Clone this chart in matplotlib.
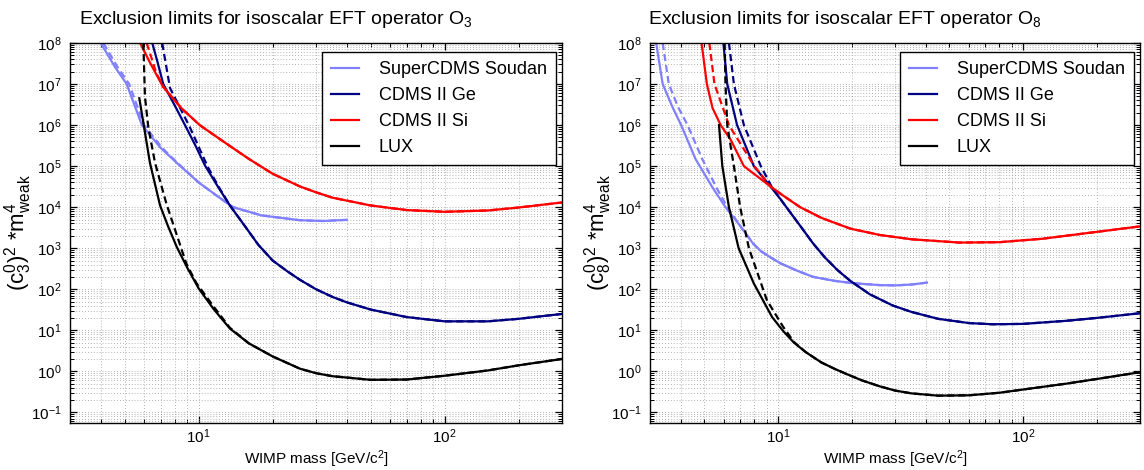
import matplotlib
matplotlib.use("Agg")
from matplotlib import pyplot as plt
from matplotlib.ticker import LogLocator, NullFormatter

plt.rcParams['font.family'] = ['Liberation Sans', 'DejaVu Sans']
plt.rcParams['mathtext.fontset'] = 'custom'
plt.rcParams['mathtext.rm'] = 'Liberation Sans'
plt.rcParams['mathtext.it'] = 'Liberation Sans:italic'

labels = ['SuperCDMS Soudan', 'CDMS II Ge', 'CDMS II Si', 'LUX']
colors = ['#8080ff', '#000080', '#ff0000', '#000000']

# ---- operator O3 (left) ----
sc3_m = [4.0, 4.57, 5.1, 5.88, 7.0, 8.15, 10.0, 12, 13.8, 18, 25.8, 32, 40]
sc3_y = [1e8, 2.6e7, 1e7, 1e6, 2.8e5, 1.2e5, 4e4, 1.8e4, 1e4, 6.3e3, 4.8e3, 4.6e3, 4.9e3]
sc3d_m = [4.1, 4.68, 5.22, 6.0, 7.1, 8.2, 10.0, 12, 13.8, 18, 25.8, 32, 40]
sc3d_y = [1e8, 2.6e7, 1e7, 1e6, 2.8e5, 1.2e5, 4e4, 1.8e4, 1e4, 6.3e3, 4.8e3, 4.6e3, 4.9e3]

ge3_m = [6.48, 6.8, 7.18, 8.0, 8.8, 9.7, 10.6, 12, 13.4, 15.5, 17.5, 20, 23, 25.8, 30, 35, 40, 50, 70, 100, 150, 200, 300]
ge3_y = [1e8, 3.5e7, 1e7, 3e6, 1e6, 3.2e5, 1.05e5, 3.1e4, 1.1e4, 3.3e3, 1.2e3, 5e2, 2.7e2, 1.7e2, 1e2, 65, 48, 32, 21, 16.5, 16.5, 19, 25]
ge3d_m = [7.11, 7.65, 9.2, 10.9, 12, 13.4, 15.5, 17.5, 20, 23, 25.8, 30, 35, 40, 50, 70, 100, 150, 200, 300]
ge3d_y = [1e8, 8e6, 9e5, 9.5e4, 3.3e4, 1.1e4, 3.3e3, 1.2e3, 5e2, 2.7e2, 1.7e2, 1e2, 65, 48, 32, 21, 16.5, 16.5, 19, 25]

si3_m = [5.78, 6.4, 7.17, 8.5, 10.1, 13, 16, 20, 25.8, 30, 35, 50, 70, 100, 150, 200, 300]
si3_y = [1e8, 3e7, 8.5e6, 2.6e6, 1e6, 3.5e5, 1.5e5, 6.5e4, 3.2e4, 2.3e4, 1.7e4, 1.1e4, 8.5e3, 7.7e3, 8.3e3, 9.8e3, 1.3e4]
si3d_m = [6.15, 6.74, 7.2, 8.5, 10.1, 13, 16, 20, 25.8, 30, 35, 50, 70, 100, 150, 200, 300]
si3d_y = [1e8, 1.8e7, 8.5e6, 2.6e6, 1e6, 3.5e5, 1.5e5, 6.5e4, 3.2e4, 2.3e4, 1.7e4, 1.1e4, 8.5e3, 7.7e3, 8.3e3, 9.8e3, 1.3e4]

lux3_m = [5.74, 6.0, 6.34, 6.97, 7.5, 8.15, 9.0, 10, 11.5, 13.4, 16, 20, 25.8, 30, 35, 50, 70, 100, 150, 200, 300]
lux3_y = [4.5e6, 9e5, 1.2e5, 1.1e4, 3.5e3, 1.07e3, 3.3e2, 1.05e2, 33, 11, 4.8, 2.3, 1.16, 0.9, 0.76, 0.62, 0.63, 0.78, 1.05, 1.4, 2.0]
lux3d_m = [5.96, 6.05, 6.24, 6.65, 7.4, 8.9, 9.8, 11.5, 13.4, 16, 20, 25.8, 30, 35, 50, 70, 100, 150, 200, 300]
lux3d_y = [1e8, 5e6, 9e5, 1.2e5, 1.2e4, 4.3e2, 1.4e2, 38, 11.5, 4.8, 2.3, 1.16, 0.9, 0.76, 0.62, 0.63, 0.78, 1.05, 1.4, 2.0]

# ---- operator O8 (right) ----
sc8_m = [3.18, 3.38, 3.7, 4.02, 4.6, 5.4, 6.1, 7.0, 7.9, 8.5, 9.3, 10.2, 12, 13.9, 17, 20.3, 26, 30, 35, 40.5]
sc8_y = [1e8, 1e7, 2.8e6, 1e6, 1.5e5, 3e4, 1e4, 3.5e3, 1.3e3, 8.5e2, 6e2, 4.3e2, 2.8e2, 2e2, 1.6e2, 1.4e2, 1.26e2, 1.24e2, 1.3e2, 1.45e2]
sc8d_m = [3.38, 3.58, 3.9, 4.27, 4.9, 5.6, 6.2, 7.0, 7.9, 8.5, 9.3, 10.2, 12, 13.9, 17, 20.3, 26, 30, 35, 40.5]
sc8d_y = [1e8, 1e7, 2.8e6, 1e6, 1.5e5, 3e4, 1e4, 3.5e3, 1.3e3, 8.5e2, 6e2, 4.3e2, 2.8e2, 2e2, 1.6e2, 1.4e2, 1.26e2, 1.24e2, 1.3e2, 1.45e2]

ge8_m = [5.98, 6.2, 6.8, 7.96, 9.3, 10.2, 11.2, 12.4, 13.9, 15.5, 17.5, 19.7, 23.7, 29.4, 35, 45, 60, 75, 100, 150, 200, 300]
ge8_y = [1e8, 1e7, 1e6, 1e5, 3.2e4, 1.6e4, 7.5e3, 3.3e3, 1.3e3, 6e2, 2.9e2, 1.6e2, 75, 40, 28, 19, 15, 14, 14.3, 17, 20, 26]
ge8d_m = [6.3, 6.6, 7.25, 8.5, 9.4, 10.2, 11.2, 12.4, 13.9, 15.5, 17.5, 19.7, 23.7, 29.4, 35, 45, 60, 75, 100, 150, 200, 300]
ge8d_y = [1e8, 1e7, 1e6, 1e5, 3.2e4, 1.6e4, 7.5e3, 3.3e3, 1.3e3, 6e2, 2.9e2, 1.6e2, 75, 40, 28, 19, 15, 14, 14.3, 17, 20, 26]

si8_m = [4.87, 5.12, 5.4, 5.83, 6.4, 7.25, 9.3, 10.5, 12.3, 15, 19.7, 26, 35, 55, 80, 120, 200, 300]
si8_y = [1e8, 1e7, 2.6e6, 1e6, 4.4e5, 1e5, 3.2e4, 1.9e4, 1e4, 5.5e3, 3e3, 2.1e3, 1.65e3, 1.37e3, 1.4e3, 1.7e3, 2.5e3, 3.4e3]
si8d_m = [5.24, 5.5, 6.3, 8.0, 9.3, 10.5, 12.3, 15, 19.7, 26, 35, 55, 80, 120, 200, 300]
si8d_y = [1e8, 1e7, 1e6, 1e5, 3.2e4, 1.9e4, 1e4, 5.5e3, 3e3, 2.1e3, 1.65e3, 1.37e3, 1.4e3, 1.7e3, 2.5e3, 3.4e3]

lux8_m = [5.74, 5.92, 6.3, 6.9, 7.96, 9.45, 10.5, 11.6, 13, 15, 17, 19.1, 22, 26, 30, 35, 45, 60, 80, 100, 150, 200, 300]
lux8_y = [1e6, 1e5, 1e4, 1e3, 1.38e2, 21, 9.5, 5, 2.9, 1.65, 1.15, 0.85, 0.6, 0.43, 0.34, 0.29, 0.255, 0.26, 0.3, 0.36, 0.5, 0.65, 0.95]
lux8d_m = [6.05, 6.1, 6.2, 6.6, 7.0, 7.6, 9.0, 10.5, 11.6, 13, 15, 17, 19.1, 22, 26, 30, 35, 45, 60, 80, 100, 150, 200, 300]
lux8d_y = [1e8, 1e7, 1e6, 1e5, 1e4, 1e3, 54, 12, 5.2, 2.9, 1.65, 1.15, 0.85, 0.6, 0.43, 0.34, 0.29, 0.255, 0.26, 0.3, 0.36, 0.5, 0.65, 0.95]

panels = [
    ('3', 276, [(sc3_m, sc3_y, sc3d_m, sc3d_y), (ge3_m, ge3_y, ge3d_m, ge3d_y),
                (si3_m, si3_y, si3d_m, si3d_y), (lux3_m, lux3_y, lux3d_m, lux3d_y)]),
    ('8', 845, [(sc8_m, sc8_y, sc8d_m, sc8d_y), (ge8_m, ge8_y, ge8d_m, ge8d_y),
                (si8_m, si8_y, si8d_m, si8d_y), (lux8_m, lux8_y, lux8d_m, lux8d_y)]),
]

W, H = 1144, 470
fig = plt.figure(figsize=(W/100, H/100), dpi=100)
axes = [fig.add_axes([70/W, 47/H, 492/W, 380/H]),
        fig.add_axes([650/W, 47/H, 490/W, 380/H])]

for ax, (op, tx, curves) in zip(axes, panels):
    for (m, y, md, yd), lab, c in zip(curves, labels, colors):
        ax.plot(m, y, '-', color=c, lw=1.6, label=lab)
        ax.plot(md, yd, '--', color=c, lw=1.6, dashes=(3.2, 1.8))
    ax.set_xscale('log')
    ax.set_yscale('log')
    ax.set_xlim(3, 300)
    ax.set_ylim(0.055, 1e8)
    ax.yaxis.set_major_locator(LogLocator(base=10, numticks=20))
    ax.yaxis.set_minor_locator(LogLocator(base=10, subs=range(2, 10), numticks=20))
    ax.yaxis.set_minor_formatter(NullFormatter())
    ax.xaxis.set_minor_formatter(NullFormatter())
    ax.grid(True, which='both', linestyle=(0, (1, 2.5)), color='#9a9a9a', lw=0.6)
    ax.tick_params(which='both', direction='in', top=True, right=True, labelsize=11)
    ax.tick_params(axis='x', pad=3)
    ax.tick_params(axis='y', pad=6)
    ax.tick_params(which='major', length=5, width=0.9)
    ax.tick_params(which='minor', length=3, width=0.7)
    for s in ax.spines.values():
        s.set_linewidth(1.0)
    fig.text(tx/W, 1 - 19/H, 'Exclusion limits for isoscalar EFT operator O$_{%s}$' % op,
             fontsize=14, ha='center', va='center')
    ax.set_xlabel('WIMP mass [GeV/c$^2$]', fontsize=11, labelpad=2)
    ax.set_ylabel(r'$(\mathrm{c}_{%s}^{0})^{2}$ *m$^{4}_{\mathrm{weak}}$' % op, fontsize=16)
    ax.yaxis.set_label_coords(-36/492, 0.5)
    leg = ax.legend(loc='upper right', bbox_to_anchor=(1 - 6/490, 1 - 9/380), borderaxespad=0,
                    fontsize=13, fancybox=False, framealpha=1, edgecolor='black',
                    handlelength=1.55, handletextpad=1.1, borderpad=0.5, labelspacing=0.5)
    leg.get_frame().set_linewidth(1.0)

fig.savefig('out.png', dpi=100)
